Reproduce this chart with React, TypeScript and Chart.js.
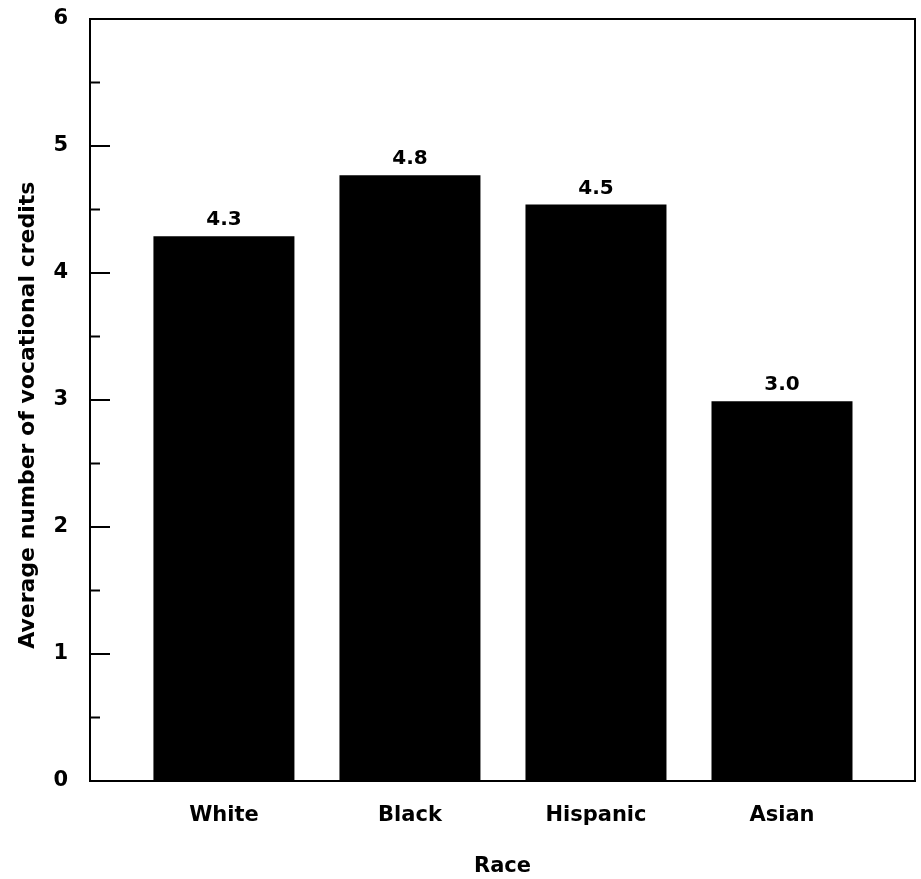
import React, { useEffect, useRef } from "react";
import { Chart, registerables } from "chart.js";

Chart.register(...registerables);

const categories = ["White", "Black", "Hispanic", "Asian"];
const values = [4.29, 4.77, 4.54, 2.99];
const valueLabels = ["4.3", "4.8", "4.5", "3.0"];
const yTickValues = [0, 1, 2, 3, 4, 5, 6];
const yTitle = "Average number of vocational credits";
const xTitle = "Race";

const FONT = "'DejaVu Sans', sans-serif";

const framePlugin = {
  id: "frame",
  afterDraw(chart: any) {
    const { ctx, chartArea } = chart;
    const y = chart.scales.y;
    ctx.save();
    ctx.strokeStyle = "#000";
    ctx.lineWidth = 2;
    ctx.strokeRect(chartArea.left, chartArea.top, chartArea.right - chartArea.left, chartArea.bottom - chartArea.top);
    y.ticks.forEach((t: any) => {
      const py = y.getPixelForValue(t.value);
      const major = yTickValues.includes(t.value);
      const len = major ? 20 : 10;
      ctx.beginPath();
      ctx.moveTo(chartArea.left, py);
      ctx.lineTo(chartArea.left + len, py);
      ctx.stroke();
    });
    // y-axis title
    const cy = chartArea.top + (chartArea.bottom - chartArea.top) * 0.52;
    ctx.translate(34, cy);
    ctx.rotate(-Math.PI / 2);
    ctx.fillStyle = "#000";
    ctx.font = `bold 22px ${FONT}`;
    ctx.textAlign = "center";
    ctx.textBaseline = "alphabetic";
    ctx.fillText(yTitle, 0, 0);
    ctx.restore();
  },
};

const labelPlugin = {
  id: "valueLabels",
  afterDatasetsDraw(chart: any) {
    const { ctx } = chart;
    const meta = chart.getDatasetMeta(0);
    ctx.save();
    ctx.fillStyle = "#000";
    ctx.font = `bold 20px ${FONT}`;
    ctx.textAlign = "center";
    ctx.textBaseline = "bottom";
    meta.data.forEach((bar: any, i: number) => {
      ctx.fillText(valueLabels[i], bar.x, bar.y - 6);
    });
    ctx.restore();
  },
};

export default function App() {
  const ref = useRef<HTMLCanvasElement>(null);
  useEffect(() => {
    if (!ref.current) return;
    const chart = new Chart(ref.current, {
      type: "bar",
      data: {
        datasets: [
          {
            data: values.map((v, i) => ({ x: i, y: v })),
            backgroundColor: "#000",
            borderWidth: 0,
            barPercentage: 0.758,
            categoryPercentage: 1,
          },
        ],
      },
      options: {
        responsive: false,
        animation: false,
        devicePixelRatio: 1,
        layout: { padding: { top: 19, right: 6, left: 0, bottom: 0 } },
        plugins: { legend: { display: false }, tooltip: { enabled: false } },
        scales: {
          x: {
            type: "linear",
            offset: false,
            min: -0.72,
            max: 3.715,
            grid: { display: false, drawTicks: false },
            border: { display: false },
            afterBuildTicks: (s: any) => {
              s.ticks = s.ticks.filter((t: any) => Number.isInteger(t.value) && categories[t.value] !== undefined);
            },
            ticks: {
              stepSize: 1,
              autoSkip: false,
              maxRotation: 0,
              padding: 22,
              color: "#000",
              font: { family: FONT, size: 21, weight: "bold" },
              callback: (v: any) => (Number.isInteger(v) && categories[v] ? categories[v] : ""),
            },
            title: {
              display: true,
              text: xTitle,
              color: "#000",
              font: { family: FONT, size: 21, weight: "bold" },
              padding: { top: 16, bottom: 0 },
            },
            afterFit: (s: any) => {
              s.height = 98;
              s.paddingLeft = 0;
              s.paddingRight = 0;
            },
          },
          y: {
            min: 0,
            max: 6,
            grid: { display: false, drawTicks: false },
            border: { display: false },
            ticks: {
              stepSize: 0.5,
              autoSkip: false,
              padding: 22,
              color: "#000",
              font: { family: FONT, size: 21, weight: "bold" },
              callback: (v: any) => (Number.isInteger(v) ? String(v) : ""),
            },
            title: { display: false },
            afterFit: (s: any) => {
              s.width = 90;
              s.paddingTop = 0;
              s.paddingBottom = 0;
            },
          },
        },
      },
      plugins: [framePlugin, labelPlugin],
    });
    return () => chart.destroy();
  }, []);
  return (
    <div style={{ position: "fixed", left: 0, top: 0, width: 921, height: 879, background: "#fff" }}>
      <canvas ref={ref} width={921} height={879} />
    </div>
  );
}
